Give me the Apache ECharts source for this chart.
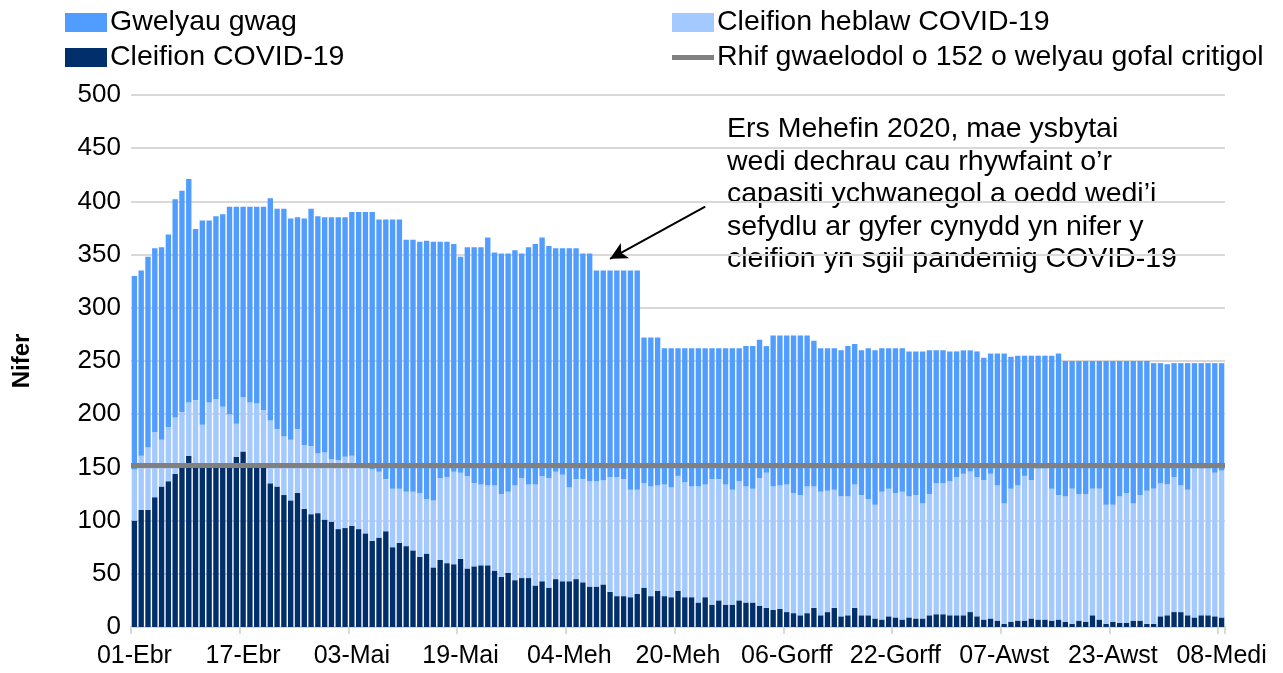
<!DOCTYPE html>
<html>
<head>
<meta charset="utf-8">
<script src="https://cdn.jsdelivr.net/npm/echarts@6/dist/echarts.min.js"></script>
<style>
html,body{margin:0;padding:0;background:#fff;}
#chart{width:1283px;height:673px;}
</style>
</head>
<body>
<div id="chart"></div>
<script>
// Categories: daily from 01-Ebr to 08-Medi
const monthNames = ['Ebr', 'Mai', 'Meh', 'Gorff', 'Awst', 'Medi'];
const monthDays = [30, 31, 30, 31, 31, 8];
const categories = [];
monthNames.forEach(function (m, i) {
  for (let d = 1; d <= monthDays[i]; d++) {
    categories.push((d < 10 ? '0' : '') + d + '-' + m);
  }
});

// Cleifion COVID-19
const covid = [
  100,110,110,122,132,137,144,150,161,152,151,152,153,150,152,160,165,153,152,150,
  135,132,124,119,126,111,106,107,101,99,92,93,95,92,88,81,84,90,75,79,
  76,72,66,69,56,63,60,59,64,55,57,58,58,53,47,51,44,46,46,39,
  43,37,45,43,43,45,42,38,38,40,33,29,29,28,31,37,29,34,29,28,
  34,28,28,23,28,21,25,21,21,25,23,23,20,18,16,17,14,13,11,13,
  18,11,14,18,10,11,18,11,11,8,7,10,9,7,9,8,8,11,12,12,
  11,11,11,14,10,7,8,6,3,5,6,6,8,7,7,6,7,5,3,6,5,
  11,7,3,5,4,4,6,6,3,3,10,11,14,14,11,9,11,11,10,9
];

// Cleifion heblaw COVID-19
const nonCovid = [
  48,51,59,61,44,51,53,52,50,61,39,59,61,57,48,31,51,58,58,54,
  59,54,55,57,60,60,64,56,63,59,65,67,66,61,62,67,62,49,55,51,
  51,55,60,51,63,77,81,87,81,87,78,76,75,80,78,76,89,94,88,95,
  99,103,101,100,88,94,97,99,99,98,108,112,110,101,98,98,103,99,105,103,
  108,108,104,109,106,118,114,113,108,112,109,107,120,127,116,116,120,113,113,119,
  114,116,114,111,113,112,116,113,109,107,120,120,117,120,114,116,108,114,123,123,
  126,130,133,132,131,131,136,127,113,125,127,136,130,142,142,124,117,118,127,119,120,
  119,123,112,110,119,122,110,118,125,127,125,123,127,119,118,140,138,138,135,138
];

// Gwelyau gwag
const emptyBeds = [
  182,174,179,173,181,181,205,208,210,161,192,171,172,181,195,204,179,184,185,191,
  209,207,214,208,199,213,223,223,221,227,228,225,229,237,240,242,237,244,253,253,
  237,237,236,243,243,222,221,214,203,215,222,223,233,219,226,224,221,211,223,226,
  224,218,210,213,225,217,212,214,198,197,194,194,196,206,206,137,140,139,128,131,
  120,126,130,130,128,123,123,128,133,125,132,134,130,119,142,141,140,148,150,142,
  137,135,134,133,137,141,132,136,142,145,135,132,136,135,136,135,143,135,125,125,
  122,118,116,114,118,115,113,124,141,124,122,113,117,106,106,125,133,127,120,125,125,
  120,120,135,135,127,124,134,126,122,118,113,113,107,115,119,99,99,99,103,101
];

// Rhif gwaelodol
const baseline = 152;

// Annotation arrow (category index, value) : head then tail
const arrowHead = [70, 346];
const arrowTail = [84, 395];

const annotationLines = [
  'Ers Mehefin 2020, mae ysbytai',
  'wedi dechrau cau rhywfaint o\u2019r',
  'capasiti ychwanegol a oedd wedi\u2019i',
  'sefydlu ar gyfer cynydd yn nifer y',
  'cleifion yn sgil pandemig COVID-19'
];

const names = {
  empty: 'Gwelyau gwag',
  nonCovid: 'Cleifion heblaw COVID-19',
  covid: 'Cleifion COVID-19',
  base: 'Rhif gwaelodol o 152 o welyau gofal critigol'
};

const FONT = '"Liberation Sans", Arial, sans-serif';
const colors = { empty: '#519DFF', nonCovid: '#A4C9FF', covid: '#002F6C', base: '#808080' };

function legendAt(name, left, top, extra) {
  return Object.assign({
    data: [name], left: left, top: top, padding: 0, orient: 'horizontal',
    icon: 'rect',
    itemWidth: 42, itemHeight: 19, itemGap: 0, selectedMode: false,
    textStyle: { fontFamily: FONT, fontSize: 28.5, color: '#000', lineHeight: 22, padding: [0, 0, 0, -2] }
  }, extra || {});
}

const chart = echarts.init(document.getElementById('chart'), null, { renderer: 'canvas' });
chart.setOption({
  animation: false,
  backgroundColor: '#fff',
  textStyle: { fontFamily: FONT },
  grid: { left: 131, right: 58, top: 95, bottom: 46, containLabel: false },
  legend: [
    legendAt(names.empty, 65, 8),
    legendAt(names.nonCovid, 672, 8),
    legendAt(names.covid, 65, 43),
    legendAt(names.base, 672, 43, { itemHeight: 5 })
  ],
  xAxis: {
    type: 'category',
    data: categories,
    boundaryGap: true,
    axisLine: { show: true, lineStyle: { color: '#D9D9D9', width: 2 } },
    axisTick: { show: true, interval: 15, length: 7, lineStyle: { color: '#D9D9D9', width: 2 } },
    axisLabel: { interval: 15, margin: 17, fontFamily: FONT, fontSize: 25, color: '#000' },
    splitLine: { show: false }
  },
  yAxis: {
    type: 'value',
    min: 0, max: 500, interval: 50,
    name: 'Nifer',
    nameLocation: 'middle',
    nameGap: 97,
    nameRotate: 90,
    nameTextStyle: { fontFamily: FONT, fontSize: 24, fontWeight: 'bold', color: '#000' },
    axisLine: { show: false },
    axisTick: { show: false },
    axisLabel: { margin: 10, fontFamily: FONT, fontSize: 26, color: '#000' },
    splitLine: { show: true, lineStyle: { color: '#D9D9D9', width: 2 } }
  },
  series: [
    {
      name: names.covid, type: 'bar', stack: 'beds', data: covid,
      barWidth: '79%', itemStyle: { color: colors.covid }
    },
    {
      name: names.nonCovid, type: 'bar', stack: 'beds', data: nonCovid,
      barWidth: '79%', itemStyle: { color: colors.nonCovid }
    },
    {
      name: names.empty, type: 'bar', stack: 'beds', data: emptyBeds,
      barWidth: '79%', itemStyle: { color: colors.empty },
      markLine: {
        silent: true, animation: false,
        symbol: ['arrow', 'none'], symbolSize: [13, 17],
        label: { show: false },
        lineStyle: { color: '#000', width: 2, type: 'solid' },
        data: [[{ coord: arrowHead }, { coord: arrowTail }]]
      }
    },
    {
      name: names.base, type: 'line', data: [], symbol: 'none',
      itemStyle: { color: colors.base },
      lineStyle: { color: colors.base, width: 5 },
      markLine: {
        silent: true, animation: false, symbol: ['none', 'none'],
        label: { show: false },
        lineStyle: { color: colors.base, width: 5, type: 'solid' },
        data: [{ yAxis: baseline }]
      }
    }
  ],
  graphic: [
    {
      type: 'text', left: 727, top: 113, silent: true,
      style: {
        text: annotationLines.join('\n'),
        font: '28.5px ' + FONT,
        lineHeight: 32.5,
        fill: '#000'
      }
    }
  ]
});
</script>
</body>
</html>
